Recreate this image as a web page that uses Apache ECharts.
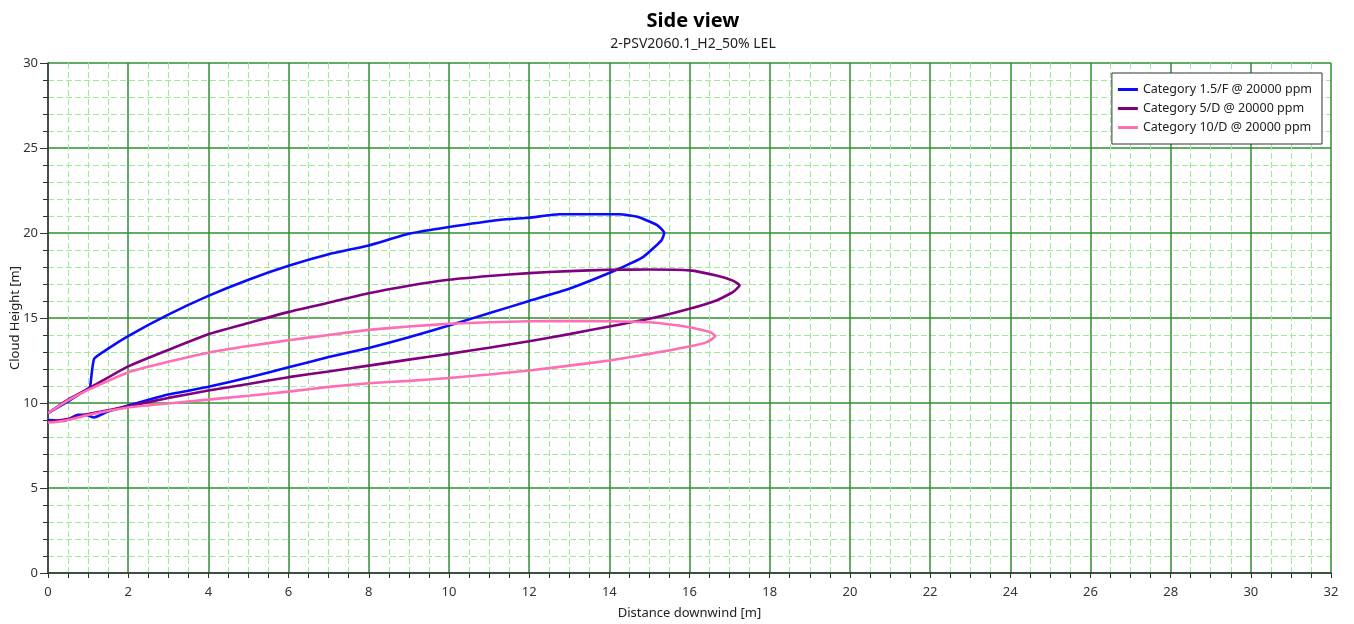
<!DOCTYPE html>
<html>
<head>
<meta charset="utf-8">
<script src="https://cdn.jsdelivr.net/npm/echarts@6/dist/echarts.min.js"></script>
<style>
html,body{margin:0;padding:0;background:#fff;}
#chart{width:1354px;height:624px;}
</style>
</head>
<body>
<div id="chart"></div>
<script>
const titleText = 'Side view';
const subtitleText = '2-PSV2060.1_H2_50% LEL';
const xAxisName = 'Distance downwind [m]';
const yAxisName = 'Cloud Height [m]';
const seriesNames = ['Category 1.5/F @ 20000 ppm', 'Category 5/D @ 20000 ppm', 'Category 10/D @ 20000 ppm'];
const seriesColors = ['#0a0aff', '#800080', '#ff6eb4'];

const cat15F = [
  [0, 9.4], [0.5, 10.1], [1.0, 10.85], [1.05, 10.95], [1.15, 12.6], [1.5, 13.2], [2, 13.94], [3, 15.2],
  [4, 16.3], [5, 17.25], [6, 18.07], [7, 18.75], [8, 19.27], [9, 19.95], [10, 20.35], [11.3, 20.78],
  [12, 20.9], [12.75, 21.1], [14.25, 21.1], [14.7, 20.95], [15.2, 20.45], [15.37, 20.0], [15.3, 19.57],
  [14.85, 18.6], [14.2, 17.85], [13, 16.72], [12, 16.0], [11, 15.28], [10, 14.56], [9, 13.87], [8, 13.24],
  [7, 12.7], [6, 12.1], [5, 11.5], [4, 10.95], [3, 10.5], [2, 9.85], [1.45, 9.45], [1.15, 9.15],
  [0.95, 9.3], [0.75, 9.3], [0.4, 8.95], [0, 9.0]
];
const cat5D = [
  [0, 9.4], [0.5, 10.2], [1, 10.83], [2, 12.15], [3, 13.12], [4, 14.04], [5, 14.7], [6, 15.36], [7, 15.9],
  [8, 16.46], [9, 16.9], [10, 17.25], [11, 17.47], [12, 17.64], [13, 17.76], [14, 17.84], [15, 17.85],
  [16, 17.8], [16.67, 17.5], [17.08, 17.2], [17.25, 16.92], [17.08, 16.52], [16.67, 16.03], [16, 15.54],
  [15, 14.95], [14, 14.5], [13, 14.05], [12, 13.63], [11, 13.25], [10, 12.89], [9, 12.55], [8, 12.2],
  [7, 11.85], [6, 11.52], [5, 11.12], [4, 10.73], [3, 10.3], [2, 9.8], [1, 9.35], [0.5, 9.05], [0, 8.9]
];
const cat10D = [
  [0, 9.4], [0.5, 10.15], [1, 10.77], [2, 11.8], [3, 12.42], [4, 12.96], [5, 13.35], [6, 13.69], [7, 14.0],
  [8, 14.3], [9, 14.5], [10, 14.66], [11, 14.75], [12, 14.81], [13, 14.82], [14, 14.81], [15, 14.75],
  [16, 14.46], [16.52, 14.17], [16.64, 13.93], [16.43, 13.58], [16, 13.32], [15, 12.89], [14, 12.5],
  [13, 12.2], [12, 11.91], [11, 11.68], [10, 11.47], [9, 11.3], [8, 11.16], [7, 10.95], [6, 10.67],
  [5, 10.43], [4, 10.2], [3, 9.97], [2, 9.74], [1, 9.3], [0.5, 9.0], [0.2, 8.88], [0, 8.85]
];
const seriesData = [cat15F, cat5D, cat10D];

const FONT = "'Segoe UI', 'Noto Sans', 'Open Sans', sans-serif";
const chart = echarts.init(document.getElementById('chart'), null, {renderer: 'canvas'});

const majorLine = {show: true, lineStyle: {color: '#2f8f2f', width: 1.5, type: 'solid'}};
const minorLine = {show: true, lineStyle: {color: '#9ee99e', width: 1, type: [6, 3]}};

chart.setOption({
  animation: false,
  backgroundColor: '#fff',
  title: {
    text: titleText,
    subtext: subtitleText,
    left: 688,
    textAlign: 'center',
    top: 6,
    itemGap: 6,
    textStyle: {fontFamily: FONT, fontSize: 20, fontWeight: 'bold', color: '#000'},
    subtextStyle: {fontFamily: FONT, fontSize: 14, color: '#222'}
  },
  legend: {
    data: seriesNames,
    orient: 'vertical',
    right: 32,
    top: 73,
    padding: [9, 10, 9, 6],
    itemGap: 4,
    itemWidth: 20,
    itemHeight: 3,
    icon: 'rect',
    borderColor: '#333',
    borderWidth: 1,
    borderRadius: 0,
    backgroundColor: '#fff',
    textStyle: {fontFamily: FONT, fontSize: 12.5, color: '#222', lineHeight: 15}
  },
  grid: {left: 48, right: 23, top: 63, bottom: 51, containLabel: false, outerBoundsMode: 'none'},
  xAxis: {
    type: 'value',
    min: 0, max: 32, interval: 2,
    name: xAxisName,
    nameLocation: 'middle',
    nameGap: 34,
    nameMoveOverlap: false,
    nameTextStyle: {fontFamily: FONT, fontSize: 13, color: '#222'},
    axisLine: {show: true, onZero: false, lineStyle: {color: '#333', width: 1.5}},
    axisTick: {show: true, inside: false, length: 5, lineStyle: {color: '#333'}},
    minorTick: {show: true, splitNumber: 4, length: 5, lineStyle: {color: '#333'}},
    axisLabel: {fontFamily: FONT, fontSize: 13, color: '#333', margin: 13},
    splitLine: majorLine,
    minorSplitLine: minorLine
  },
  yAxis: {
    type: 'value',
    min: 0, max: 30, interval: 5,
    name: yAxisName,
    nameLocation: 'middle',
    nameGap: 26,
    nameMoveOverlap: false,
    nameTextStyle: {fontFamily: FONT, fontSize: 13, color: '#222'},
    axisLine: {show: true, onZero: false, lineStyle: {color: '#333', width: 1.5}},
    axisTick: {show: true, inside: false, length: 8, lineStyle: {color: '#333'}},
    minorTick: {show: true, splitNumber: 5, length: 5, lineStyle: {color: '#333'}},
    axisLabel: {fontFamily: FONT, fontSize: 13, color: '#333', margin: 10},
    splitLine: majorLine,
    minorSplitLine: minorLine
  },
  series: seriesData.map((d, i) => ({
    name: seriesNames[i],
    type: 'line',
    data: d,
    symbol: 'none',
    showSymbol: false,
    smooth: 0.15,
    color: seriesColors[i],
    lineStyle: {color: seriesColors[i], width: 2.6},
    z: 3 + i
  }))
});
</script>
</body>
</html>
